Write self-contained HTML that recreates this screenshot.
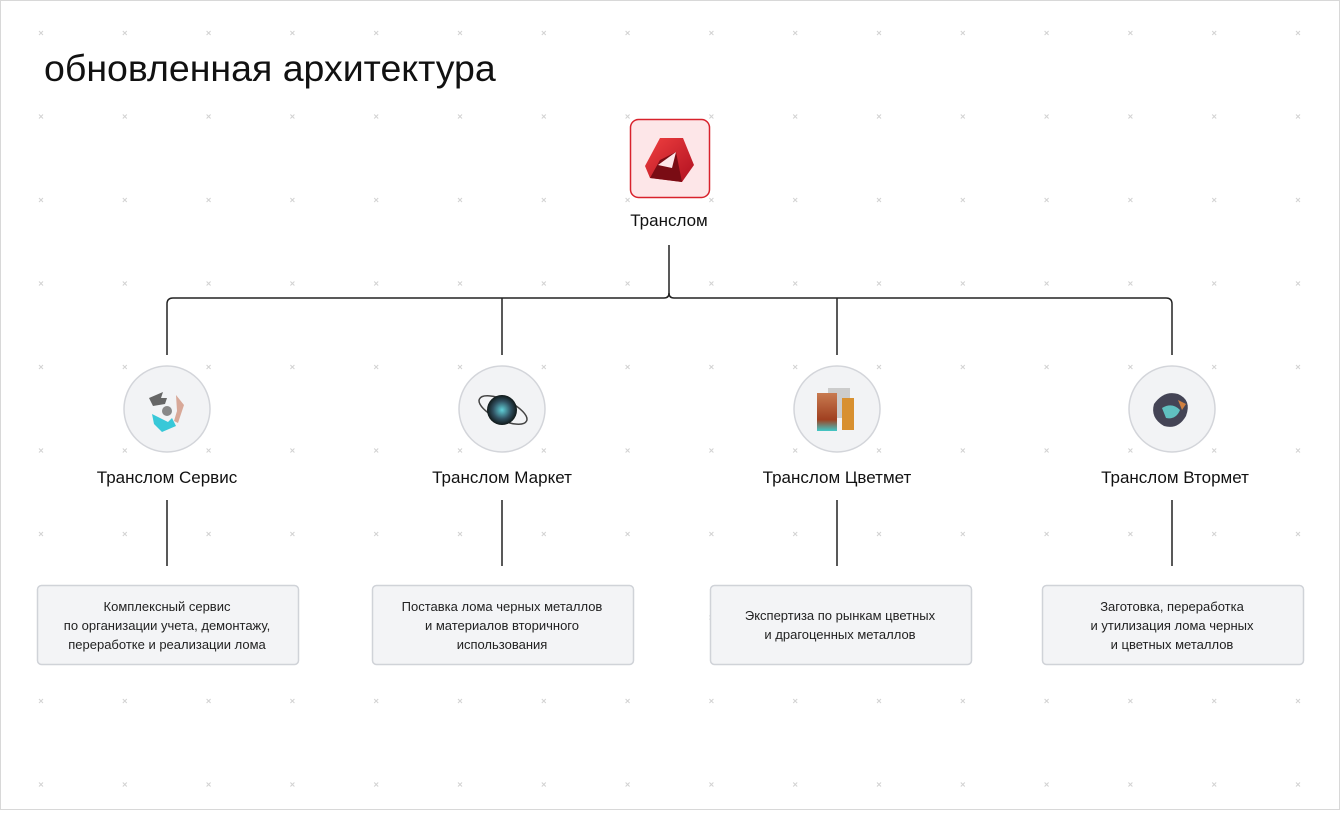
<!DOCTYPE html>
<html><head><meta charset="utf-8"><style>
html,body{margin:0;padding:0;background:#fff}
body{width:1340px;height:810px;overflow:hidden;font-family:"Liberation Sans","Noto Sans CJK SC",sans-serif}
</style></head><body>
<svg width="1340" height="810" viewBox="0 0 1340 810" xmlns="http://www.w3.org/2000/svg">
<defs>
<g id="x"><path d="M-2,-2L2,2M2,-2L-2,2" stroke="#d2d2d2" stroke-width="1"/></g>
<linearGradient id="r1" x1="0" y1="0" x2="1" y2="1"><stop offset="0" stop-color="#f04040"/><stop offset="1" stop-color="#b01020"/></linearGradient>
<linearGradient id="cu" x1="0" y1="0" x2="0" y2="1"><stop offset="0" stop-color="#c87a50"/><stop offset="0.7" stop-color="#a04020"/><stop offset="1" stop-color="#40c8c8"/></linearGradient>
<radialGradient id="sph"><stop offset="0" stop-color="#60d0d8"/><stop offset="0.6" stop-color="#305060"/><stop offset="1" stop-color="#101818"/></radialGradient>
</defs>
<rect x="0.5" y="0.5" width="1339" height="809" fill="#fff" stroke="#d8d8d8"/>
<g id="grid">
</g>
<script>
(function(){var g=document.getElementById('grid');var ns='http://www.w3.org/2000/svg';
for(var i=0;i<16;i++)for(var j=0;j<10;j++){var u=document.createElementNS(ns,'use');u.setAttribute('href','#x');
u.setAttribute('x',(41+83.8*i).toFixed(1));u.setAttribute('y',(33+83.5*j).toFixed(1));g.appendChild(u);}})();
</script>
<text x="44" y="81" font-size="37.5" fill="#111" font-family="Liberation Sans, sans-serif">обновленная архитектура</text>

<rect x="630.5" y="119.5" width="79" height="78" rx="8" fill="#fde6e8" stroke="#d8222c" stroke-width="1.5"/>
<polygon points="660,138 683,138 694,165 682,182 650,178 645,166" fill="url(#r1)"/>
<polygon points="660,160 676,152 682,182 650,178" fill="#7a0c14"/>
<polygon points="658,165 676,152 672,168" fill="#fde6e8"/>
<text x="669" y="226" font-size="17" text-anchor="middle" fill="#111">Транслом</text>

<g stroke="#222" stroke-width="1.5" fill="none">
<path d="M669,245V293q0,5 5,5H1166q6,0 6,6V355"/>
<path d="M669,293q0,5 -5,5H173q-6,0 -6,6V355"/>
<path d="M502,298V355M837,298V355"/>
<path d="M167,500V566M502,500V566M837,500V566M1172,500V566"/>
</g>

<g fill="#f2f3f5" stroke="#d3d5da" stroke-width="1.5">
<circle cx="167" cy="409" r="43"/><circle cx="502" cy="409" r="43"/>
<circle cx="837" cy="409" r="43"/><circle cx="1172" cy="409" r="43"/>
</g>
<g>
<path d="M149,398l14,-6l-2,6l6,0l-2,6l-12,2z" fill="#666"/>
<path d="M176,395l8,10l-6,18l-4,-2l3,-10z" fill="#d8a898"/>
<path d="M152,414l16,8l4,-4l4,8l-14,6l-8,-8z" fill="#38c8d8"/>
<circle cx="167" cy="411" r="5" fill="#888"/>
<ellipse cx="503" cy="410" rx="26" ry="10" transform="rotate(25 503 410)" fill="none" stroke="#444" stroke-width="1.5"/>
<circle cx="502" cy="410" r="15" fill="url(#sph)"/>
<rect x="828" y="388" width="22" height="30" fill="#ccc"/>
<rect x="817" y="393" width="20" height="38" fill="url(#cu)"/>
<rect x="842" y="398" width="12" height="32" fill="#d89030"/>
<g fill="#445"><path d="M1154,404q10,-14 24,-10q14,6 8,22q-8,14 -22,10q-14,-8 -10,-22z"/>
<path d="M1162,408q10,-6 18,2q-4,10 -14,8z" fill="#60c0c0"/><path d="M1178,400l8,4l-4,6z" fill="#d08040"/></g>
</g>

<g font-size="17" text-anchor="middle" fill="#111">
<text x="167" y="483">Транслом Сервис</text>
<text x="502" y="483">Транслом Маркет</text>
<text x="837" y="483">Транслом Цветмет</text>
<text x="1175" y="483">Транслом Втормет</text>
</g>

<g fill="#f3f4f6" stroke="#d0d3d8" stroke-width="1.5">
<rect x="37.5" y="585.5" width="261" height="79" rx="4"/>
<rect x="372.5" y="585.5" width="261" height="79" rx="4"/>
<rect x="710.5" y="585.5" width="261" height="79" rx="4"/>
<rect x="1042.5" y="585.5" width="261" height="79" rx="4"/>
</g>
<g font-size="13" text-anchor="middle" fill="#222">
<text x="167" y="611">Комплексный сервис</text>
<text x="167" y="630">по организации учета, демонтажу,</text>
<text x="167" y="649">переработке и реализации лома</text>
<text x="502" y="611">Поставка лома черных металлов</text>
<text x="502" y="630">и материалов вторичного</text>
<text x="502" y="649">использования</text>
<text x="840" y="620">Экспертиза по рынкам цветных</text>
<text x="840" y="639">и драгоценных металлов</text>
<text x="1172" y="611">Заготовка, переработка</text>
<text x="1172" y="630">и утилизация лома черных</text>
<text x="1172" y="649">и цветных металлов</text>
</g>
</svg>
</body></html>
